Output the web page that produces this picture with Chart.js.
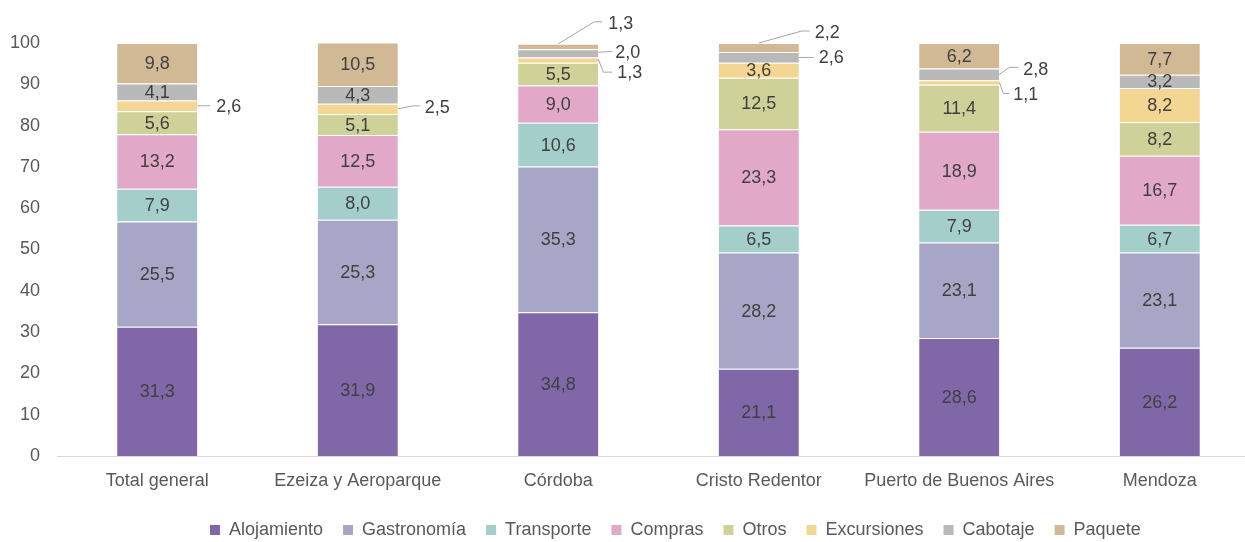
<!DOCTYPE html>
<html lang="es">
<head>
  <meta charset="UTF-8">
  <title>Gasto por rubro</title>
  <style>
    html, body { margin: 0; padding: 0; background: #fff; overflow: hidden; }
    .chartBox { width: 1260px; height: 542px; position: relative; }
  </style>
</head>
<body>
  <div class="chartBox">
    <canvas id="myChart"></canvas>
  </div>

  <script src="https://cdn.jsdelivr.net/npm/chart.js"></script>
  <script>
    // categories and series
    const labels = ['Total general', 'Ezeiza y Aeroparque', 'Córdoba', 'Cristo Redentor', 'Puerto de Buenos Aires', 'Mendoza'];
    const alojamiento = [31.3, 31.9, 34.8, 21.1, 28.6, 26.2];
    const gastronomia = [25.5, 25.3, 35.3, 28.2, 23.1, 23.1];
    const transporte  = [7.9, 8.0, 10.6, 6.5, 7.9, 6.7];
    const compras     = [13.2, 12.5, 9.0, 23.3, 18.9, 16.7];
    const otros       = [5.6, 5.1, 5.5, 12.5, 11.4, 8.2];
    const excursiones = [2.6, 2.5, 1.3, 3.6, 1.1, 8.2];
    const cabotaje    = [4.1, 4.3, 2.0, 2.6, 2.8, 3.2];
    const paquete     = [9.8, 10.5, 1.3, 2.2, 6.2, 7.7];
    const yTicks = [0, 10, 20, 30, 40, 50, 60, 70, 80, 90, 100];

    const series = [
      { label: 'Alojamiento', data: alojamiento, color: '#8068A8' },
      { label: 'Gastronomía', data: gastronomia, color: '#A8A6C6' },
      { label: 'Transporte',  data: transporte,  color: '#A3CECA' },
      { label: 'Compras',     data: compras,     color: '#E2A8C8' },
      { label: 'Otros',       data: otros,       color: '#CED298' },
      { label: 'Excursiones', data: excursiones, color: '#F2D692' },
      { label: 'Cabotaje',    data: cabotaje,    color: '#B9B9B9' },
      { label: 'Paquete',     data: paquete,     color: '#D2B996' }
    ];

    // labels drawn outside the bar with a leader line
    // anchor: 'right' = bar right edge at segment middle, 'top' = bar centre at bar top
    const callouts = [
      { ds: 5, idx: 0, anchor: 'right', path: [[0, 0], [13, 0]], text: [19, 1] },
      { ds: 5, idx: 1, anchor: 'right', path: [[0, 0], [15, -3], [22, -3]], text: [27, -1] },
      { ds: 7, idx: 2, anchor: 'top',   path: [[0, 0], [36, -22], [44, -22]], text: [50, -20] },
      { ds: 6, idx: 2, anchor: 'right', path: [[0, -1], [14, -2]], text: [17, 0] },
      { ds: 5, idx: 2, anchor: 'right', path: [[0, -1], [5, 12], [14, 12]], text: [19, 13] },
      { ds: 7, idx: 3, anchor: 'top',   path: [[0, 0], [43, -12], [51, -12]], text: [56, -10] },
      { ds: 6, idx: 3, anchor: 'right', path: [[0, 0], [15, 0]], text: [20, 1] },
      { ds: 6, idx: 4, anchor: 'right', path: [[0, 0], [10, -7], [19, -7]], text: [24, -4] },
      { ds: 5, idx: 4, anchor: 'right', path: [[0, 0], [4, 11], [10, 11]], text: [14, 13] }
    ];

    const fmt = v => v.toFixed(1).replace('.', ',');
    const FONT = "'Liberation Sans', Arial, sans-serif";

    const valueLabels = {
      id: 'valueLabels',
      afterDatasetsDraw(chart) {
        const ctx = chart.ctx;
        ctx.save();
        ctx.font = '18px ' + FONT;
        ctx.fillStyle = '#404040';
        ctx.textBaseline = 'middle';
        chart.data.datasets.forEach((ds, d) => {
          const meta = chart.getDatasetMeta(d);
          meta.data.forEach((bar, i) => {
            const p = bar.getProps(['x', 'y', 'base', 'width'], true);
            const mid = (p.y + p.base) / 2;
            const c = callouts.find(o => o.ds === d && o.idx === i);
            if (!c) {
              ctx.textAlign = 'center';
              ctx.fillText(fmt(ds.data[i]), p.x, mid + 1);
              return;
            }
            let ax, ay;
            if (c.anchor === 'top') {
              ax = p.x; ay = p.y;
            } else {
              ax = p.x + p.width / 2; ay = mid;
            }
            ctx.beginPath();
            ctx.strokeStyle = '#A6A6A6';
            ctx.lineWidth = 1;
            c.path.forEach((pt, k) => {
              if (k === 0) ctx.moveTo(ax + pt[0], ay + pt[1]);
              else ctx.lineTo(ax + pt[0], ay + pt[1]);
            });
            ctx.stroke();
            ctx.textAlign = 'left';
            ctx.fillText(fmt(ds.data[i]), ax + c.text[0], ay + c.text[1]);
          });
        });
        ctx.restore();
      }
    };

    // move the legend to match the reference placement
    const legendPlace = {
      id: 'legendPlace',
      afterLayout(chart) {
        const lg = chart.legend;
        if (!lg || !lg.lineWidths) return;
        const pad = lg.options.labels.padding;
        const start = (lg.left + pad + lg.right - lg.lineWidths[0]) / 2;
        const dx = 210 - start;
        lg.left += dx; lg.right += dx;
        lg.top = 530 - pad - 9;
        lg.bottom = 542;
        lg.height = lg.bottom - lg.top;
      }
    };

    const data = {
      labels: labels,
      datasets: series.map(s => ({
        label: s.label,
        data: s.data,
        backgroundColor: s.color,
        borderColor: 'rgba(255,255,255,0.85)',
        borderWidth: { top: 1, bottom: 0, left: 0, right: 0 },
        borderSkipped: false,
        barPercentage: 0.4,
        categoryPercentage: 1.0
      }))
    };

    const config = {
      type: 'bar',
      data,
      options: {
        responsive: true,
        maintainAspectRatio: false,
        animation: false,
        layout: { padding: { top: 43, bottom: 0, left: 0, right: 0 } },
        scales: {
          x: {
            stacked: true,
            grid: { display: false, drawTicks: false },
            border: { display: true, color: '#D9D9D9', width: 1 },
            ticks: { color: '#595959', font: { family: FONT, size: 18 }, padding: 14, maxRotation: 0 },
            afterFit(scale) {
              const lh = scale.chart.legend ? scale.chart.legend.height : 0;
              scale.height = 542 - 456 - lh;
            }
          },
          y: {
            stacked: true,
            min: 0,
            max: 100,
            grid: { display: false, drawTicks: false },
            border: { display: false },
            afterBuildTicks(scale) {
              scale.ticks = yTicks.map(v => ({ value: v }));
            },
            ticks: { color: '#595959', font: { family: FONT, size: 18 }, padding: 17 },
            afterFit(scale) { scale.width = 57; }
          }
        },
        plugins: {
          legend: {
            position: 'bottom',
            maxHeight: 24,
            labels: {
              color: '#595959',
              font: { family: FONT, size: 18 },
              boxWidth: 10,
              boxHeight: 10,
              padding: 20,
              generateLabels(chart) {
                return chart.data.datasets.map((ds, i) => ({
                  text: ds.label,
                  fillStyle: ds.backgroundColor,
                  strokeStyle: ds.backgroundColor,
                  fontColor: '#595959',
                  lineWidth: 0,
                  hidden: false,
                  datasetIndex: i
                }));
              }
            }
          },
          tooltip: { enabled: false }
        }
      },
      plugins: [valueLabels, legendPlace]
    };

    const myChart = new Chart(document.getElementById('myChart'), config);
  </script>
</body>
</html>
